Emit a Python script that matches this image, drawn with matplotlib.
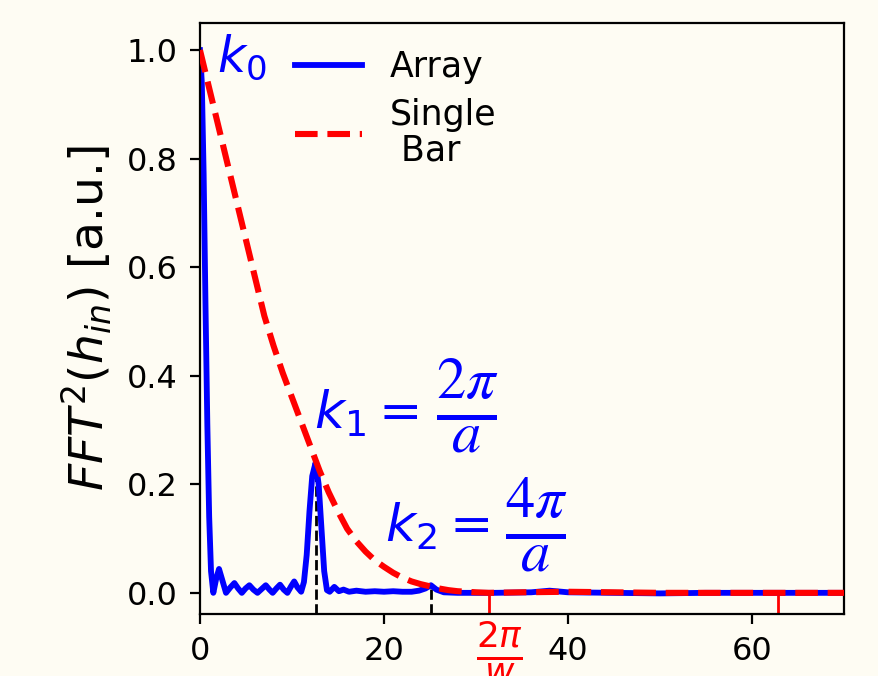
import numpy as np
import matplotlib
matplotlib.use("Agg")
import matplotlib.pyplot as plt

# ---------------- data ----------------
array_k = [0.0, 0.2, 0.4, 0.6, 0.8, 1.0, 1.2, 1.45, 1.75, 2.07, 2.4, 2.83,
           3.3, 3.74, 4.15, 4.55, 4.95, 5.37, 5.8, 6.25, 6.7, 7.15, 7.55,
           7.9, 8.3, 8.7, 9.1, 9.5, 9.9, 10.24, 10.6, 11.0, 11.3, 11.6,
           11.9, 12.2, 12.57, 12.9, 13.2, 13.5, 13.8, 14.1, 14.6, 15.1,
           15.6, 16.2, 17.0, 18.0, 19.0, 20.0, 21.0, 22.0, 23.0, 23.8, 24.5,
           25.1, 25.7, 26.5, 28.0, 32.0, 36.0, 38.0, 40.0, 45.0, 50.0, 55.0,
           60.0, 65.0, 70.0]
array_fft = [1.0, 0.94, 0.77, 0.53, 0.31, 0.14, 0.04, 0.0, 0.025, 0.044,
             0.025, 0.0, 0.01, 0.018, 0.008, 0.0, 0.008, 0.014, 0.006, 0.0,
             0.007, 0.014, 0.006, 0.0, 0.008, 0.015, 0.006, 0.0, 0.012,
             0.021, 0.01, 0.002, 0.02, 0.07, 0.15, 0.215, 0.24, 0.2, 0.12,
             0.04, 0.005, 0.002, 0.011, 0.003, 0.006, 0.002, 0.004, 0.002,
             0.003, 0.002, 0.003, 0.002, 0.002, 0.004, 0.008, 0.014, 0.006,
             0.001, 0.0, 0.0, 0.001, 0.004, 0.001, 0.0, -0.001, 0.0, 0.0,
             0.0, 0.0]

bar_k = [0, 1, 2, 3, 4, 5, 6, 7, 8, 9, 10, 11, 12, 13, 14, 15, 16, 17, 18,
         19, 20, 21, 22, 23, 24, 25, 26, 27, 28, 29, 30, 31.4, 35, 40, 45,
         50, 55, 60, 65, 70]
bar_fft = [1.0, 0.93, 0.86, 0.79, 0.72, 0.65, 0.58, 0.51, 0.455, 0.405,
           0.36, 0.315, 0.27, 0.225, 0.185, 0.15, 0.118, 0.095, 0.076, 0.06,
           0.048, 0.037, 0.028, 0.021, 0.016, 0.012, 0.008, 0.005, 0.003,
           0.002, 0.001, 0.0, 0.001, 0.002, 0.001, 0.0, 0.0, 0.0, 0.0, 0.0]

peak_k = [12.57, 25.13]
peak_fft = [0.24, 0.014]

bar_zeros = [31.42, 62.83]

x_ticks = [0, 20, 40, 60]
y_ticks = [0.0, 0.2, 0.4, 0.6, 0.8, 1.0]

# ---------------- figure ----------------
bg = "#fefcf3"
fig = plt.figure(figsize=(4.395, 3.38), dpi=200, facecolor=bg)
ax = fig.add_axes([0.2275, 0.0917, 0.7327, 0.8743], facecolor=bg)

ymin, ymax = -0.039, 1.05
ax.vlines(peak_k, ymin, peak_fft, colors="black", linestyles="--",
          linewidth=1.0, zorder=1)
ax.plot(array_k, array_fft, color="#0000ff", lw=2.1, label="Array", zorder=2)
ax.plot(bar_k, bar_fft, color="#ff0000", lw=2.2, ls="--",
        label="Single\n Bar", zorder=3)

ax.set_xlim(0, 70)
ax.set_ylim(ymin, ymax)
ax.set_xticks(x_ticks)
ax.set_yticks(y_ticks)
ax.set_xticklabels([str(t) for t in x_ticks])
ax.set_yticklabels([f"{t:.1f}" for t in y_ticks])
ax.tick_params(axis="both", which="major", labelsize=11.5, length=3.5,
               width=0.8, pad=4.5)
ax.set_xticks(bar_zeros, minor=True)
ax.set_xticklabels(["", ""], minor=True)
ax.tick_params(axis="x", which="minor", direction="in", length=8,
               width=1.0, color="#ff0000")

ax.text(bar_zeros[0] + 1.1, -0.007, r"$\frac{2\pi}{w}$", color="#ff0000",
        fontsize=18.5, ha="center", va="top", transform=ax.get_xaxis_transform(),
        clip_on=False)

ax.set_ylabel(r"$FFT^2(h_{in})$ [a.u.]", fontsize=17, labelpad=4.5)

# annotations
ax.text(1.9, 0.96, r"$k_0$", color="#0000ff", fontsize=17.5,
        ha="left", va="baseline")
ax.text(12.4, 0.302, r"$k_1 =$", color="#0000ff", fontsize=18.7,
        ha="left", va="baseline")
ax.text(29.1, 0.343, r"$\frac{2\pi}{a}$", color="#0000ff", fontsize=30,
        ha="center", va="center", math_fontfamily="stix")
ax.text(20.1, 0.094, r"$k_2 =$", color="#0000ff", fontsize=18.7,
        ha="left", va="baseline")
ax.text(36.6, 0.125, r"$\frac{4\pi}{a}$", color="#0000ff", fontsize=30,
        ha="center", va="center", math_fontfamily="stix")

leg = ax.legend(loc="upper left", bbox_to_anchor=(0.12, 0.983), frameon=False,
                fontsize=12.5, handlelength=1.95, handletextpad=0.8,
                borderpad=0.0, labelspacing=0.4)
for t in leg.get_texts():
    t.set_linespacing(1.05)

fig.savefig("out.png", dpi=200, facecolor=bg)
